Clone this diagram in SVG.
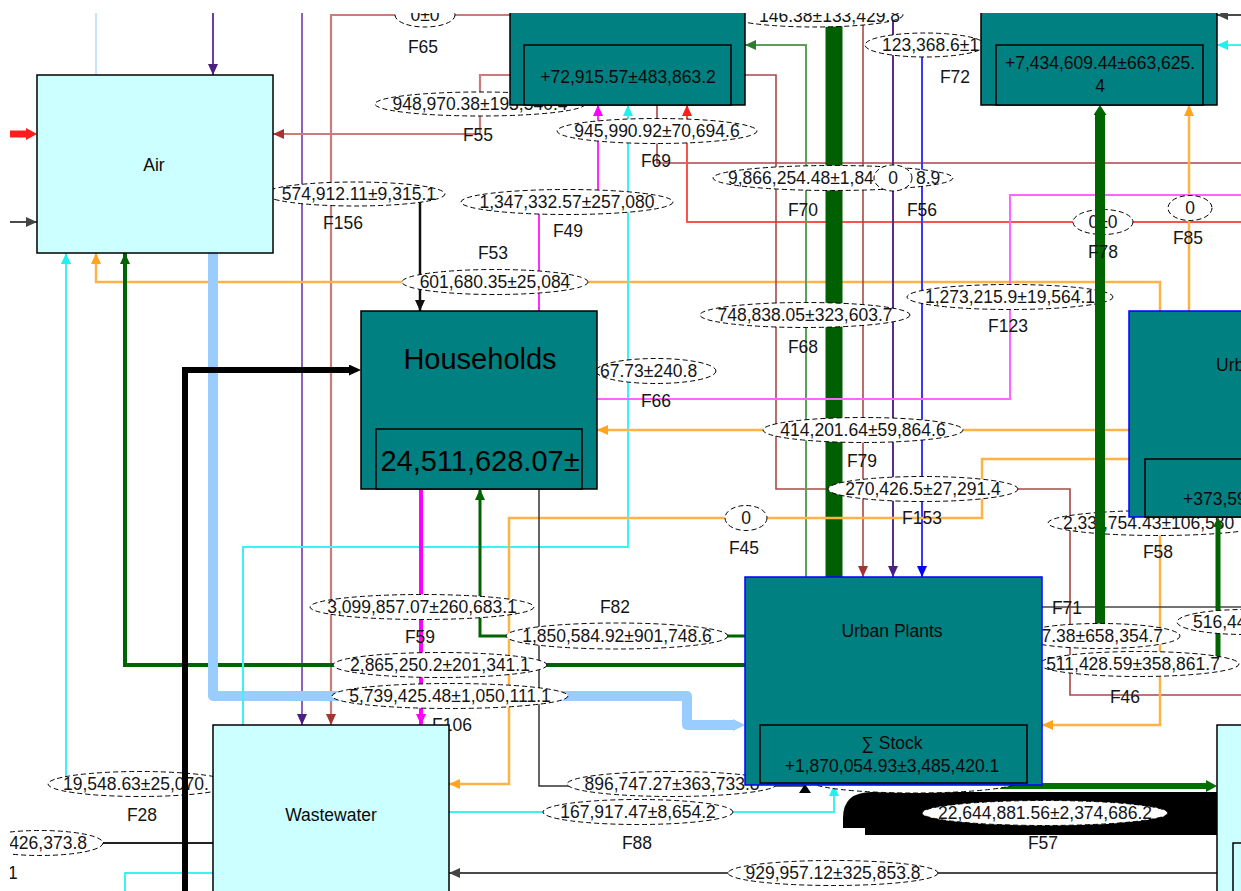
<svg xmlns="http://www.w3.org/2000/svg" width="1241" height="891" viewBox="0 0 1241 891">
<defs>
<style>
.t{font-family:"Liberation Sans",Arial,sans-serif;font-size:17.5px;fill:#151515;text-anchor:middle}
.s{text-anchor:start}
.e{text-anchor:end}
.big{font-size:29px;fill:#000}
.nt{fill:#0a0a0a}
.el{fill:#fff;stroke:#000;stroke-width:1;stroke-dasharray:5 3}
.ln{fill:none}
.env{fill:#ccffff;stroke:#000;stroke-width:1.5}
.proc{fill:#008080;stroke:#000;stroke-width:1.5}
.procb{fill:#008080;stroke:#0000ff;stroke-width:1.5}
.org{stroke:#ffb347;stroke-width:2.5}
.cy{stroke:#3ff2f2;stroke-width:2}
.br{stroke:#a84848;stroke-width:1.6}
.brl{stroke:#c87c7c;stroke-width:2.2}
.mag{stroke:#ff2cff;stroke-width:2}
.gry{stroke:#4a4a4a;stroke-width:2}
.dg{stroke:#006400}
</style>
<clipPath id="view"><rect x="10" y="13" width="1231" height="878"/></clipPath>
<marker id="mPur" viewBox="0 0 11 10" refX="11" refY="5" markerWidth="11" markerHeight="10" markerUnits="userSpaceOnUse" orient="auto"><path d="M0,0L11,5L0,10z" fill="#4b1f86"/></marker>
<marker id="mBr" viewBox="0 0 11 10" refX="11" refY="5" markerWidth="11" markerHeight="10" markerUnits="userSpaceOnUse" orient="auto"><path d="M0,0L11,5L0,10z" fill="#a83232"/></marker>
<marker id="mRed" viewBox="0 0 11 10" refX="11" refY="5" markerWidth="11" markerHeight="10" markerUnits="userSpaceOnUse" orient="auto"><path d="M0,0L11,5L0,10z" fill="#ff1c1c"/></marker>
<marker id="mGray" viewBox="0 0 11 10" refX="11" refY="5" markerWidth="11" markerHeight="10" markerUnits="userSpaceOnUse" orient="auto"><path d="M0,0L11,5L0,10z" fill="#444"/></marker>
<marker id="mBlk" viewBox="0 0 11 10" refX="11" refY="5" markerWidth="11" markerHeight="10" markerUnits="userSpaceOnUse" orient="auto"><path d="M0,0L11,5L0,10z" fill="#111"/></marker>
<marker id="mOrg" viewBox="0 0 11 10" refX="11" refY="5" markerWidth="11" markerHeight="10" markerUnits="userSpaceOnUse" orient="auto"><path d="M0,0L11,5L0,10z" fill="#ffa41c"/></marker>
<marker id="mCy" viewBox="0 0 11 10" refX="11" refY="5" markerWidth="11" markerHeight="10" markerUnits="userSpaceOnUse" orient="auto"><path d="M0,0L11,5L0,10z" fill="#1ff0f0"/></marker>
<marker id="mMag" viewBox="0 0 11 10" refX="11" refY="5" markerWidth="11" markerHeight="10" markerUnits="userSpaceOnUse" orient="auto"><path d="M0,0L11,5L0,10z" fill="#ff00ff"/></marker>
<marker id="mGrn" viewBox="0 0 11 10" refX="11" refY="5" markerWidth="11" markerHeight="10" markerUnits="userSpaceOnUse" orient="auto"><path d="M0,0L11,5L0,10z" fill="#006400"/></marker>
<marker id="mGrnL" viewBox="0 0 11 10" refX="11" refY="5" markerWidth="11" markerHeight="10" markerUnits="userSpaceOnUse" orient="auto"><path d="M0,0L11,5L0,10z" fill="#2e7d2e"/></marker>
<marker id="mBlue" viewBox="0 0 11 10" refX="11" refY="5" markerWidth="11" markerHeight="10" markerUnits="userSpaceOnUse" orient="auto"><path d="M0,0L11,5L0,10z" fill="#0000ff"/></marker>
<marker id="bRed" viewBox="0 0 11 12" refX="0" refY="6" markerWidth="11" markerHeight="12" markerUnits="userSpaceOnUse" orient="auto"><path d="M0,0L11,6L0,12z" fill="#ff1c1c"/></marker>
<marker id="bBlk" viewBox="0 0 12 11" refX="0" refY="5.5" markerWidth="12" markerHeight="11" markerUnits="userSpaceOnUse" orient="auto"><path d="M0,0L12,5.5L0,11z" fill="#000"/></marker>
<marker id="bLb" viewBox="0 0 12 12" refX="0" refY="6" markerWidth="12" markerHeight="12" markerUnits="userSpaceOnUse" orient="auto"><path d="M0,0L12,6L0,12z" fill="#99ccff"/></marker>
<marker id="bGrn13" viewBox="0 0 10 13" refX="0" refY="6.5" markerWidth="10" markerHeight="13" markerUnits="userSpaceOnUse" orient="auto"><path d="M0,0L10,6.5L0,13z" fill="#006400"/></marker>
<marker id="bGrn10" viewBox="0 0 10 10" refX="0" refY="5" markerWidth="10" markerHeight="10" markerUnits="userSpaceOnUse" orient="auto"><path d="M0,0L10,5L0,10z" fill="#006400"/></marker>
<marker id="bGrn12" viewBox="0 0 11 12" refX="0" refY="6" markerWidth="11" markerHeight="12" markerUnits="userSpaceOnUse" orient="auto"><path d="M0,0L11,6L0,12z" fill="#007000"/></marker>
</defs>
<rect x="0" y="0" width="1241" height="891" fill="#fff"/>
<g clip-path="url(#view)">
<g id="connectors">
<path class="ln" d="M96,13V75" stroke="#c6e2ff" stroke-width="2"/>
<path class="ln" d="M213,13V75" stroke="#6b3fa0" stroke-width="2" marker-end="url(#mPur)"/>
<path class="ln" d="M302,13V725" stroke="#8c60c0" stroke-width="2" marker-end="url(#mPur)"/>
<path class="ln brl" d="M510,15H331V725" marker-end="url(#mBr)"/>
<path class="ln brl" d="M510,75H480V134H273" marker-end="url(#mBr)"/>
<path class="ln" d="M10,134H26" stroke="#ff1c1c" stroke-width="7" marker-end="url(#bRed)"/>
<path class="ln gry" d="M10,222H37" marker-end="url(#mGray)"/>
<path class="ln" d="M273,194H420V311" stroke="#111" stroke-width="2.5" marker-end="url(#mBlk)"/>
<path class="ln org" d="M1160,311V282H96V253" marker-end="url(#mOrg)"/>
<path class="ln cy" d="M213,784H66V253" marker-end="url(#mCy)"/>
<path class="ln dg" d="M745,665H125V253" stroke-width="4" marker-end="url(#mGrn)"/>
<path class="ln" d="M213,253V696H687V725H733" stroke="#99ccff" stroke-width="10" stroke-linejoin="round" marker-end="url(#bLb)"/>
<path class="ln mag" d="M539,311V202H598V105" marker-end="url(#mMag)"/>
<path class="ln cy" d="M243,725V547H628V105" marker-end="url(#mCy)"/>
<path class="ln br" d="M657,105V163H1241"/>
<path class="ln" d="M1241,222H687V105" stroke="#ff5050" stroke-width="2" marker-end="url(#mRed)"/>
<path class="ln br" d="M745,75H776V489H1070V695H1241"/>
<path class="ln" d="M806,577V45H745" stroke="#5aa05a" stroke-width="2" marker-end="url(#mGrnL)"/>
<path class="ln" d="M834,13V577" stroke="#005f00" stroke-width="17"/>
<path class="ln br" d="M863,13V577" stroke-width="2" marker-end="url(#mBr)"/>
<path class="ln" d="M893,13V577" stroke="#5a2d8a" stroke-width="2" marker-end="url(#mPur)"/>
<path class="ln" d="M981,45H922V577" stroke="#3838ff" stroke-width="2" marker-end="url(#mBlue)"/>
<path class="ln org" d="M1189,311V105" marker-end="url(#mOrg)"/>
<path class="ln" d="M1241,195H1010V399H597" stroke="#ff66ff" stroke-width="2"/>
<path class="ln org" d="M1129,430H597" marker-end="url(#mOrg)"/>
<path class="ln org" d="M1129,459H982V518H509V784H449" marker-end="url(#mOrg)"/>
<path class="ln org" d="M1160,517V725H1042" marker-end="url(#mOrg)"/>
<path class="ln" d="M421,489V725" stroke="#ff00ff" stroke-width="4" marker-end="url(#mMag)"/>
<path class="ln dg" d="M745,636H480V489" stroke-width="3" marker-end="url(#mGrn)"/>
<path class="ln" d="M539,489V786H805" stroke="#333" stroke-width="1.5"/>
<polygon points="799,793 805,784 811,793" fill="#000"/>
<path class="ln cy" d="M449,812H834V785" marker-end="url(#mCy)"/>
<path class="ln gry" d="M1217,873H449" marker-end="url(#mGray)"/>
<path d="M1217,792H872Q843,792 843,818V828H865V835H1217Z" fill="#000"/>
<path class="ln" d="M1000,786H1206" stroke="#007000" stroke-width="6" marker-end="url(#bGrn12)"/>
<path class="ln" d="M1042,607H1241" stroke="#444" stroke-width="1.5"/>
<path class="ln" d="M103,843H213" stroke="#222" stroke-width="2"/>
<path class="ln cy" d="M213,873H125V891"/>
<path class="ln gry" d="M1241,15H1217" marker-end="url(#mGray)"/>
<path class="ln cy" d="M1241,45H1217" marker-end="url(#mCy)"/>
</g>
<g id="labels">
<g><ellipse class="el" cx="425" cy="15" rx="30" ry="12"/><text class="t" x="425" y="21">0±0</text></g>
<g><ellipse class="el" cx="815" cy="15" rx="88" ry="12"/><text class="t e" x="900" y="22">146.38±133,429.8</text></g>
<g><ellipse class="el" cx="925" cy="45" rx="60" ry="12"/><text class="t s" x="882" y="51">123,368.6±1</text></g>
<g><ellipse class="el" cx="480" cy="104" rx="105" ry="12"/><text class="t" x="480" y="110">948,970.38±193,540.4</text></g>
<g><ellipse class="el" cx="355" cy="194" rx="90" ry="12"/><text class="t e" x="436" y="200">574,912.11±9,315.1</text></g>
<g><ellipse class="el" cx="657" cy="131" rx="100" ry="12.5"/><text class="t" x="657" y="137">945,990.92±70,694.6</text></g>
<g><ellipse class="el" cx="567" cy="202" rx="106" ry="12.5"/><text class="t" x="567" y="208">1,347,332.57±257,080</text></g>
<g><ellipse class="el" cx="495" cy="282" rx="93" ry="12.5"/><text class="t" x="495" y="288">601,680.35±25,084</text></g>
<g><ellipse class="el" cx="833" cy="178" rx="120" ry="12.5"/><text class="t s" x="728" y="184">9,866,254.48±1,84</text><text class="t s" x="916" y="184">8.9</text></g>
<g><ellipse class="el" cx="893" cy="178" rx="19" ry="13"/><text class="t" x="893" y="184">0</text></g>
<g><ellipse class="el" cx="1190" cy="208" rx="22" ry="12.5"/><text class="t" x="1190" y="214">0</text></g>
<g><ellipse class="el" cx="1103" cy="222" rx="30" ry="12.5"/><text class="t" x="1103" y="228">0±0</text></g>
<g><ellipse class="el" cx="1010" cy="297" rx="103" ry="12.5"/><text class="t" x="1010" y="303">1,273,215.9±19,564.1</text></g>
<g><ellipse class="el" cx="805" cy="315" rx="105" ry="12.5"/><text class="t" x="805" y="321">748,838.05±323,603.7</text></g>
<g><ellipse class="el" cx="656" cy="371" rx="60" ry="12.5"/><text class="t s" x="600" y="377">67.73±240.8</text></g>
<g><ellipse class="el" cx="863" cy="430" rx="100" ry="12.5"/><text class="t" x="863" y="436">414,201.64±59,864.6</text></g>
<g><ellipse class="el" cx="923" cy="489" rx="95" ry="12.5"/><text class="t" x="923" y="495">270,426.5±27,291.4</text></g>
<g><ellipse class="el" cx="746" cy="518" rx="21" ry="12.5"/><text class="t" x="746" y="524">0</text></g>
<g><ellipse class="el" cx="1158" cy="523" rx="110" ry="12.5"/><text class="t s" x="1063" y="529">2,33</text><text class="t s" x="1103" y="529">,754.43±106,580</text></g>
<g><ellipse class="el" cx="422" cy="607" rx="112" ry="12.5"/><text class="t" x="422" y="613">3,099,857.07±260,683.1</text></g>
<g><ellipse class="el" cx="617" cy="636" rx="111" ry="13"/><text class="t" x="617" y="642">1,850,584.92±901,748.6</text></g>
<g><ellipse class="el" cx="440" cy="665" rx="107" ry="12.5"/><text class="t" x="440" y="671">2,865,250.2±201,341.1</text></g>
<g><ellipse class="el" cx="450" cy="696" rx="118" ry="12.5"/><text class="t" x="450" y="702">5,739,425.48±1,050,111.1</text></g>
<g><ellipse class="el" cx="672" cy="784" rx="105" ry="12.5"/><text class="t" x="672" y="790">896,747.27±363,733.8</text></g>
<g><ellipse class="el" cx="638" cy="812" rx="95" ry="12.5"/><text class="t" x="638" y="818">167,917.47±8,654.2</text></g>
<g><ellipse class="el" cx="833" cy="873" rx="105" ry="12.5"/><text class="t" x="833" y="879">929,957.12±325,853.8</text></g>
<g><ellipse class="el" cx="1045" cy="813" rx="123" ry="12.5"/><text class="t" x="1045" y="819">22,644,881.56±2,374,686.2</text></g>
<g><ellipse class="el" cx="140" cy="784" rx="92" ry="12.5"/><text class="t s" x="63" y="790">19,548.63±25,070.</text></g>
<g><ellipse class="el" cx="40" cy="843" rx="63" ry="12.5"/><text class="t e" x="87" y="849">426,373.8</text></g>
<g><ellipse class="el" cx="915" cy="781" rx="105" ry="12"/></g>
</g>
<g id="connectors-top">
<path class="ln dg" d="M1042,636H1100V115" stroke-width="10" marker-end="url(#bGrn13)"/>
<path class="ln dg" d="M1042,664H1218V527" stroke-width="5" marker-end="url(#bGrn10)"/>
<path class="ln" d="M185,891V370H349" stroke="#000" stroke-width="6" marker-end="url(#bBlk)"/>
</g>
<g id="labels-top">
<g><ellipse class="el" cx="1100" cy="636" rx="80" ry="12.5"/><text class="t e" x="1163" y="642">7.38±658,354.7</text></g>
<g><ellipse class="el" cx="1245" cy="622" rx="68" ry="12.5"/><text class="t s" x="1193" y="628">516,44</text></g>
<g><ellipse class="el" cx="1139" cy="664" rx="100" ry="12.5"/><text class="t" x="1133" y="670">511,428.59±358,861.7</text></g>
</g>
<g id="flow-names">
<text class="t" x="423" y="53">F65</text>
<text class="t" x="478" y="141">F55</text>
<text class="t" x="343" y="229">F156</text>
<text class="t" x="493" y="259">F53</text>
<text class="t" x="568" y="237">F49</text>
<text class="t" x="656" y="167">F69</text>
<text class="t" x="803" y="216">F70</text>
<text class="t" x="922" y="216">F56</text>
<text class="t" x="955" y="83">F72</text>
<text class="t" x="1188" y="244">F85</text>
<text class="t" x="1103" y="258">F78</text>
<text class="t" x="1008" y="332">F123</text>
<text class="t" x="803" y="353">F68</text>
<text class="t" x="656" y="407">F66</text>
<text class="t" x="862" y="467">F79</text>
<text class="t" x="922" y="524">F153</text>
<text class="t" x="744" y="554">F45</text>
<text class="t" x="1158" y="558">F58</text>
<text class="t" x="615" y="613">F82</text>
<text class="t" x="420" y="643">F59</text>
<text class="t" x="452" y="731">F106</text>
<text class="t" x="1067" y="614">F71</text>
<text class="t" x="1125" y="703">F46</text>
<text class="t" x="142" y="821">F28</text>
<text class="t" x="637" y="849">F88</text>
<text class="t" x="1043" y="849">F57</text>
<text class="t s" x="8" y="879">1</text>
</g>
<g id="node-air"><rect class="env" x="37" y="75" width="236" height="178"/><text class="t nt" x="154" y="171">Air</text></g>
<g id="node-top"><rect class="proc" x="510" y="0" width="235" height="105"/><rect class="proc" x="524" y="45" width="207" height="60"/><text class="t nt" x="628" y="83">+72,915.57±483,863.2</text></g>
<g id="node-topright"><rect class="proc" x="981" y="0" width="236" height="105"/><rect class="proc" x="996" y="45" width="207" height="60"/><text class="t nt" x="1100" y="69">+7,434,609.44±663,625.</text><text class="t nt" x="1100" y="92">4</text></g>
<g id="node-households"><rect class="proc" x="361" y="311" width="236" height="178"/><rect class="proc" x="376" y="429" width="206" height="60"/><text class="t big" x="480" y="369">Households</text><text class="t big" x="480" y="471">24,511,628.07±</text></g>
<g id="node-urban-plants"><rect class="procb" x="745" y="577" width="297" height="208"/><rect class="proc" x="760" y="725" width="267" height="58"/><text class="t nt" x="892" y="637">Urban Plants</text><text class="t nt" x="892" y="749">∑ Stock</text><text class="t nt" x="892" y="772">+1,870,054.93±3,485,420.1</text></g>
<g id="node-urb"><rect class="procb" x="1129" y="311" width="150" height="206"/><rect class="proc" x="1145" y="459" width="130" height="58"/><text class="t s nt" x="1216" y="371">Urb</text><text class="t s nt" x="1183" y="505">+373,59</text></g>
<g id="node-wastewater"><rect class="env" x="213" y="725" width="236" height="200"/><text class="t nt" x="331" y="821">Wastewater</text></g>
<g id="node-right-bottom"><rect class="env" x="1217" y="725" width="60" height="200"/><rect class="env" x="1233" y="843" width="40" height="60"/></g>
</g>
</svg>
